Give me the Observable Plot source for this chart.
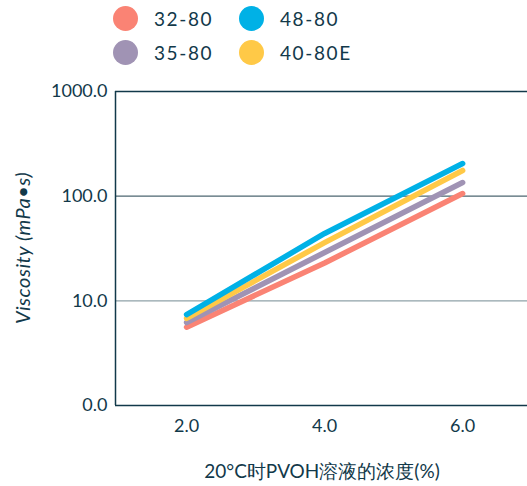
<!DOCTYPE html>
<html>
<head>
<meta charset="utf-8">
<script src="https://cdn.jsdelivr.net/npm/d3@7"></script>
<script src="https://cdn.jsdelivr.net/npm/@observablehq/plot@0.6"></script>
<style>
  html, body { margin: 0; padding: 0; background: #fff; }
  body { width: 527px; height: 486px; overflow: hidden; font-family: Lato, "Noto Sans", sans-serif; color: #12394a; }
  #legend { position: relative; height: 75px; }
  .item { position: absolute; display: flex; align-items: center; font-size: 19px; letter-spacing: 1.6px; }
  .dot { width: 25px; height: 25px; border-radius: 50%; margin-right: 16px; }
</style>
</head>
<body>
<div id="legend"></div>
<div id="chart"></div>
<script>
const series = ["32-80", "35-80", "48-80", "40-80E"];
const colors = ["#FA8374", "#A093B4", "#00B1E6", "#FFC947"];
const concentrations = [2, 4, 6];
const v32 = [5.6, 23, 106];
const v35 = [6.2, 29, 135];
const v48 = [7.4, 44, 205];
const v40 = [6.8, 36, 176];
const yTicks = [1, 10, 100, 1000];
const yTickLabels = ["0.0", "10.0", "100.0", "1000.0"];
const xTicks = [2, 4, 6];
const xTickLabels = ["2.0", "4.0", "6.0"];

const valuesBySeries = {"32-80": v32, "35-80": v35, "48-80": v48, "40-80E": v40};
const drawOrder = ["32-80", "35-80", "40-80E", "48-80"];
const data = [];
for (const s of drawOrder) {
  valuesBySeries[s].forEach((v, i) => data.push({series: s, x: concentrations[i], y: v}));
}

// Legend (2 columns x 2 rows)
const legend = document.getElementById("legend");
const legendPos = [[113, 6], [113, 40], [239, 6], [239, 40]];
series.forEach((s, i) => {
  const el = document.createElement("div");
  el.className = "item";
  el.style.left = legendPos[i][0] + "px";
  el.style.top = legendPos[i][1] + "px";
  el.innerHTML = `<span class="dot" style="background:${colors[i]}"></span><span>${s}</span>`;
  legend.appendChild(el);
});

const textColor = "#12394a";
const chart = Plot.plot({
  width: 527,
  height: 411,
  marginLeft: 115,
  marginRight: 0,
  marginTop: 16,
  marginBottom: 81,
  style: {fontFamily: "Lato, 'Noto Sans', sans-serif", fontSize: "18px", color: textColor, background: "#fff"},
  x: {domain: [0.97, 6.94], ticks: xTicks, tickFormat: d => xTickLabels[xTicks.indexOf(d)], tickSize: 0, tickPadding: 14,
      label: null},
  y: {type: "log", domain: [1, 1000], ticks: yTicks, tickFormat: d => yTickLabels[yTicks.indexOf(d)], tickSize: 0, tickPadding: 8,
      label: null},
  color: {domain: series, range: colors},
  marks: [
    Plot.ruleY([10], {stroke: "#8fa2a8", strokeWidth: 1.3}),
    Plot.ruleY([100], {stroke: "#4d6670", strokeWidth: 1.3}),
    Plot.ruleY([1, 1000], {stroke: textColor, strokeWidth: 1.5}),
    Plot.ruleX([0.97], {stroke: textColor, strokeWidth: 1.5}),
    Plot.axisY({ticks: yTicks, tickFormat: d => yTickLabels[yTicks.indexOf(d)], tickSize: 0, tickPadding: 8, label: null, fontSize: 18}),
    Plot.axisX({ticks: xTicks, tickFormat: d => xTickLabels[xTicks.indexOf(d)], tickSize: 0, tickPadding: 14, label: null, fontSize: 18}),
    Plot.line(data, {x: "x", y: "y", z: "series", stroke: "series", strokeWidth: 5.5, strokeLinecap: "round", strokeLinejoin: "round"})
  ]
});
const svg = d3.select(chart);
// x axis label
svg.append("text")
  .attr("x", 322)
  .attr("y", 403)
  .attr("text-anchor", "middle")
  .attr("fill", textColor)
  .style("font-size", "19px")
  .text("20°C时PVOH溶液的浓度(%)");
// y axis label as rotated italic text
svg.append("text")
  .attr("transform", "translate(30,173) rotate(-90)")
  .attr("text-anchor", "middle")
  .attr("fill", textColor)
  .style("font-style", "italic")
  .style("font-size", "20px")
  .style("letter-spacing", "0.5px")
  .text("Viscosity (mPa•s)");
document.getElementById("chart").appendChild(chart);
</script>
</body>
</html>
